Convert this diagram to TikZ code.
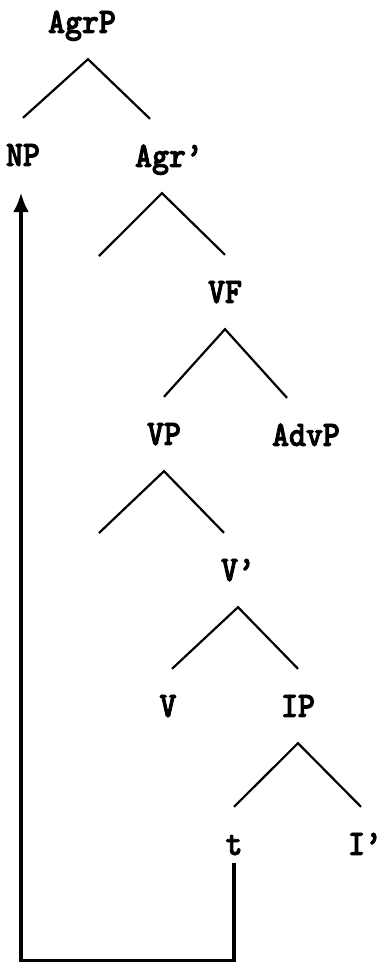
\documentclass[tikz,border=0pt]{standalone}
\usepackage{fontspec}
\newfontfamily\catfont[FakeStretch=0.9, FakeBold=2.5]{lmmonolt10-bold.otf}
\usepackage{tikz}
\usetikzlibrary{arrows.meta}
\tikzset{cat/.style={font=\fontsize{25.5}{26}\selectfont\catfont, inner xsep=0pt, inner ysep=18.5pt, text height=15.5pt, text depth=0pt},
         branch/.style={line width=0.55mm},
         move/.style={line width=1mm, -{Latex[length=5mm,width=4mm]}}}

\begin{document}
\begin{tikzpicture}[x=0.25mm, y=-0.25mm] % one unit is one pixel of the scan, y runs down
    \useasboundingbox (0,0) rectangle (383,962);
    \node[cat] (AgrP) at (82,22) {AgrP};
    \node[cat] (NP) at (23,155) {NP};
    \node[cat] (Agrbar) at (169,156) {Agr’};
    \coordinate (AgrbarL) at (99,256); % empty left daughter
    \node[cat] (VF) at (225,292) {VF};
    \node[cat] (VP) at (164,434) {VP};
    \node[cat] (AdvP) at (306,435) {AdvP};
    \coordinate (VPL) at (99,533); % empty left daughter
    \node[cat] (Vbar) at (238,570) {V’};
    \node[cat] (V) at (168,706) {V};
    \node[cat] (IP) at (298,706) {IP};
    \node[cat] (t) at (234,844) {t};
    \node[cat] (Ibar) at (365,844) {I’};
    % branches
    \draw[branch] (NP.north) -- ([xshift=1.5mm]AgrP.south) -- ([xshift=-4.75mm]Agrbar.north);
    \draw[branch] (AgrbarL) -- ([xshift=-1.75mm]Agrbar.south) -- (VF.north);
    \draw[branch] (VP.north) -- (VF.south) -- ([xshift=-4.75mm]AdvP.north);
    \draw[branch] (VPL) -- (VP.south) -- ([xshift=-3.5mm]Vbar.north);
    \draw[branch] ([xshift=1mm]V.north) -- (Vbar.south) -- (IP.north);
    \draw[branch] (t.north) -- (IP.south) -- ([xshift=-1mm]Ibar.north);
    % movement of the subject
    \coordinate (low) at (21,961);
    \draw[move] ([yshift=4.5mm]t.south) |- (low) -- (low |- NP.south);
\end{tikzpicture}
\end{document}
